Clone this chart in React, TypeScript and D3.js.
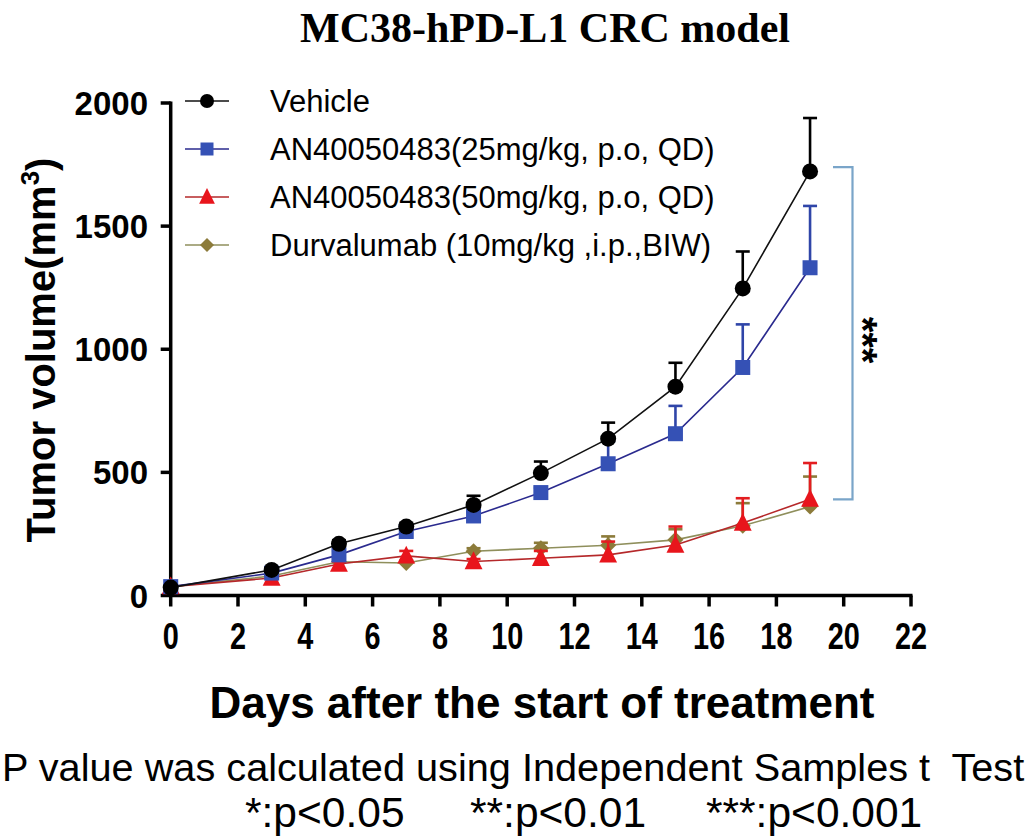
import React from "react";
import * as d3 from "d3";

const days = [0, 3, 5, 7, 9, 11, 13, 15, 17, 19];
const vehicleMean = [32, 104, 210, 280, 368, 497, 637, 848, 1247, 1722];
const vehicleErr = [0, 8, 14, 15, 37, 47, 65, 97, 150, 217];
const an25Mean = [36, 91, 165, 260, 323, 418, 535, 657, 926, 1331];
const an25Err = [0, 8, 15, 15, 15, 20, 90, 113, 175, 251];
const an50Mean = [36, 71, 128, 161, 138, 151, 165, 205, 294, 391];
const an50Err = [0, 8, 10, 20, 10, 30, 54, 75, 101, 147];
const durvaMean = [36, 79, 137, 132, 180, 192, 204, 226, 283, 361];
const durvaErr = [0, 5, 10, 10, 12, 22, 36, 43, 92, 122];

const seriesNames = [
  "Vehicle",
  "AN40050483(25mg/kg, p.o, QD)",
  "AN40050483(50mg/kg, p.o, QD)",
  "Durvalumab (10mg/kg ,i.p.,BIW)",
];
const xTicks = [0, 2, 4, 6, 8, 10, 12, 14, 16, 18, 20, 22];
const yTicks = [0, 500, 1000, 1500, 2000];
const bracketRange = [1740, 390];

type Shape = "circle" | "square" | "triangle" | "diamond";

const series = [
  { name: seriesNames[0], mean: vehicleMean, err: vehicleErr, shape: "circle" as Shape, line: "#111111", fill: "#000000", errColor: "#000000" },
  { name: seriesNames[1], mean: an25Mean, err: an25Err, shape: "square" as Shape, line: "#2a2a8e", fill: "#3551b5", errColor: "#2f45a8" },
  { name: seriesNames[2], mean: an50Mean, err: an50Err, shape: "triangle" as Shape, line: "#b5282a", fill: "#e8151c", errColor: "#e31d20" },
  { name: seriesNames[3], mean: durvaMean, err: durvaErr, shape: "diamond" as Shape, line: "#8f8f5c", fill: "#8c7b3a", errColor: "#8c7b3a" },
];

function markerPath(shape: Shape, s: number): string {
  if (shape === "circle") return d3.symbol(d3.symbolCircle, Math.PI * s * s)() as string;
  if (shape === "square") return d3.symbol(d3.symbolSquare, 4 * s * s)() as string;
  if (shape === "triangle") {
    const h = s * 2;
    const w = s * 2.1;
    return `M0,${-h * 0.6}L${w / 2},${h * 0.45}L${-w / 2},${h * 0.45}Z`;
  }
  return `M0,${-s}L${s},0L0,${s}L${-s},0Z`;
}

const markerSize: Record<Shape, number> = { circle: 8, square: 7.5, triangle: 8.5, diamond: 8 };
const legendSize: Record<Shape, number> = { circle: 7, square: 6.5, triangle: 7.5, diamond: 7 };

export default function App() {
  const x = d3.scaleLinear().domain([0, 22]).range([170.7, 911]);
  const y = d3.scaleLinear().domain([0, 2000]).range([595.5, 103]);
  const line = d3
    .line<number>()
    .x((_, i) => x(days[i]))
    .y((v) => y(v));

  const sans = "'Liberation Sans', Arial, sans-serif";
  const drawOrder = [...series].reverse();
  const bTop = y(bracketRange[0]);
  const bBot = y(bracketRange[1]);

  return (
    <div style={{ position: "absolute", left: 0, top: 0 }}>
      <svg width={1035} height={837} style={{ display: "block", background: "#ffffff" }}>
        {/* Title */}
        <text x={545} y={42} textAnchor="middle" fontFamily="'Liberation Serif', 'Times New Roman', serif" fontWeight="bold" fontSize={42}>
          MC38-hPD-L1 CRC model
        </text>

        {/* Axes */}
        <line x1={x(0)} x2={x(0)} y1={y(2000) - 1.5} y2={y(0)} stroke="#000" strokeWidth={3.5} />
        <line x1={x(0) - 1.5} x2={x(22) + 1.5} y1={y(0)} y2={y(0)} stroke="#000" strokeWidth={3.5} />
        {yTicks.map((t) => (
          <g key={"yt" + t}>
            <line x1={x(0) - 10} x2={x(0)} y1={y(t)} y2={y(t)} stroke="#000" strokeWidth={3.5} />
            <text x={148} y={y(t) + 12} textAnchor="end" fontFamily={sans} fontWeight="bold" fontSize={33}>
              {t}
            </text>
          </g>
        ))}
        {xTicks.map((t) => (
          <g key={"xt" + t}>
            <line x1={x(t)} x2={x(t)} y1={y(0)} y2={y(0) + 11} stroke="#000" strokeWidth={3.5} />
            <text
              transform={`translate(${x(t)},649) scale(0.78,1)`}
              textAnchor="middle"
              fontFamily={sans}
              fontWeight="bold"
              fontSize={37}
            >
              {t}
            </text>
          </g>
        ))}

        {/* Axis titles */}
        <text x={542} y={718} textAnchor="middle" fontFamily={sans} fontWeight="bold" fontSize={44}>
          Days after the start of treatment
        </text>
        <text transform="translate(55,350) rotate(-90)" textAnchor="middle" fontFamily={sans} fontWeight="bold" fontSize={40}>
          Tumor volume(mm
          <tspan fontSize={26} dy={-16}>3</tspan>
          <tspan dy={16}>)</tspan>
        </text>

        {/* Data */}
        {drawOrder.map((s) => (
          <g key={s.name}>
            <path d={line(s.mean) as string} fill="none" stroke={s.line} strokeWidth={1.6} />
            {s.mean.map((v, i) =>
              s.err[i] > 0 ? (
                <g key={"e" + i} stroke={s.errColor} strokeWidth={2.6}>
                  <line x1={x(days[i])} x2={x(days[i])} y1={y(v)} y2={y(v + s.err[i])} />
                  <line x1={x(days[i]) - 7} x2={x(days[i]) + 7} y1={y(v + s.err[i])} y2={y(v + s.err[i])} />
                </g>
              ) : null
            )}
            {s.mean.map((v, i) => (
              <path
                key={"m" + i}
                d={markerPath(s.shape, markerSize[s.shape])}
                transform={`translate(${x(days[i])},${y(v)})`}
                fill={s.fill}
              />
            ))}
          </g>
        ))}

        {/* Significance bracket */}
        <path d={`M833,${bTop}H852.5V${bBot}H833`} fill="none" stroke="#7aa5c9" strokeWidth={2.2} />
        <text transform="translate(849,340) rotate(90)" textAnchor="middle" fontFamily={sans} fontWeight="bold" fontSize={40}>
          ***
        </text>

        {/* Legend */}
        {series.map((s, i) => {
          const ly = 101 + i * 48;
          return (
            <g key={"lg" + i}>
              <line x1={185} x2={229} y1={ly} y2={ly} stroke={s.line} strokeWidth={1.6} />
              <path d={markerPath(s.shape, legendSize[s.shape])} transform={`translate(207,${ly})`} fill={s.fill} />
              <text x={270} y={ly + 11} fontFamily={sans} fontSize={31}>
                {s.name}
              </text>
            </g>
          );
        })}

        {/* Footnotes */}
        <text x={2} y={781} fontFamily={sans} fontSize={39.7} style={{ whiteSpace: "pre" }}>
          {"P value was calculated using Independent Samples t  Test"}
        </text>
        <text x={245} y={827} fontFamily={sans} fontSize={42.5}>*:p&lt;0.05</text>
        <text x={470} y={827} fontFamily={sans} fontSize={42.5}>**:p&lt;0.01</text>
        <text x={706} y={827} fontFamily={sans} fontSize={42.5}>***:p&lt;0.001</text>
      </svg>
    </div>
  );
}
